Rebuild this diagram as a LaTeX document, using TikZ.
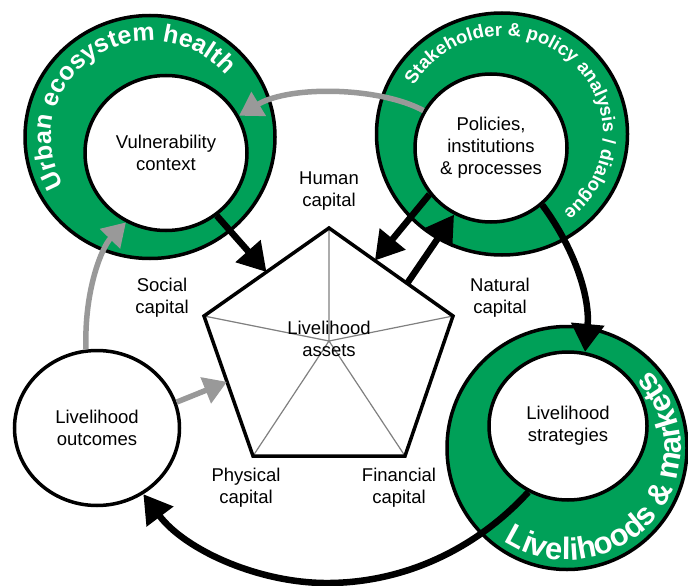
\documentclass[tikz,border=0pt]{standalone}
\usepackage{fontspec}
\setmainfont{Liberation Sans}
\usetikzlibrary{shapes.geometric,arrows.meta,decorations.text,calc}
\definecolor{ringgreen}{RGB}{0,160,88}
\definecolor{arrowgray}{RGB}{153,153,153}
\definecolor{spokegray}{RGB}{128,128,128}
\begin{document}
\begin{tikzpicture}[x=1pt,y=-1pt,
  ring/.style={fill=ringgreen, draw=black, line width=3.5pt},
  hole/.style={ellipse, draw=black, fill=white, line width=3.5pt, inner sep=0pt, align=center, font=\fontsize{18.5}{22}\selectfont},
  lbl/.style={align=center, font=\fontsize{18.5}{22}\selectfont, inner sep=0pt},
  blackarrow/.style={draw=black, line width=6.5pt, -{Triangle[length=28pt,width=32pt]}},
  grayarrow/.style={draw=arrowgray, line width=5.5pt, -{Triangle[length=23pt,width=27pt]}}
]
\useasboundingbox (0,0) rectangle (688,586);

% green rings
\draw[ring] (150,137) ellipse [x radius=125, y radius=121.5];
\draw[ring] (502,134) ellipse [x radius=125.5, y radius=121];
\draw[ring] (567,448) ellipse [x radius=120, y radius=121.5];

% inner circles
\node[hole, minimum width=162pt, minimum height=155pt] (vc) at (166,153) {Vulnerability\\context};
\node[hole, minimum width=152pt, minimum height=148pt] (pol) at (491,148) {Policies,\\institutions\\\& processes};
\node[hole, minimum width=158pt, minimum height=148pt] (lst) at (568,426) {Livelihood\\strategies};
\node[hole, minimum width=165pt, minimum height=155pt] (lo) at (97,428) {Livelihood\\outcomes};

% ring texts
\path[decorate, decoration={text along path, text align=center, text color=white,
  text={|\fontsize{25}{25}\selectfont\bfseries|Urban ecosystem health}}]
  ($(150,137)+(140:99 and 96)$) arc[start angle=140, end angle=330, x radius=99, y radius=96];
\path[decorate, decoration={text along path, text align=center, text color=white,
  text={|\fontsize{18.5}{18.5}\selectfont\bfseries|Stakeholder {\&} policy analysis / dialogue}}]
  ($(502,134)+(200:101 and 98)$) arc[start angle=200, end angle=422, x radius=101, y radius=98];
\path[decorate, decoration={text along path, text align=center, text color=white,
  text={|\fontsize{31}{31}\selectfont\bfseries|Livelihoods {\&} markets}}]
  ($(567,448)+(137:114 and 112)$) arc[start angle=137, end angle=-57, x radius=114, y radius=112];

% pentagon
\coordinate (p1) at (329,228);
\coordinate (p2) at (204,316);
\coordinate (p3) at (253,456);
\coordinate (p4) at (405,456);
\coordinate (p5) at (453,316);
\coordinate (pc) at (329,341);
\fill[white] (p1) -- (p2) -- (p3) -- (p4) -- (p5) -- cycle;
\draw[spokegray, line width=1.2pt] (pc) -- (p1) (pc) -- (p2) (pc) -- (p3) (pc) -- (p4) (pc) -- (p5);
\draw[line width=3.5pt, line join=miter] (p1) -- (p2) -- (p3) -- (p4) -- (p5) -- cycle;
\node[lbl] (assets) at (329,339) {Livelihood\\assets};

% capital labels
\node[lbl] (hc) at (329,191) {Human\\capital};
\node[lbl] (sc) at (162,298) {Social\\capital};
\node[lbl] (nc) at (500,298) {Natural\\capital};
\node[lbl] (phc) at (246,488) {Physical\\capital};
\node[lbl] (fc) at (399,488) {Financial\\capital};

% connectors
\coordinate (dip) at (330,583);
\draw[grayarrow] (pol.151) .. controls (380,87) and (290,85) .. (vc.27);
\draw[blackarrow] (vc.-51) -- ($(p1)!0.5!(p2)$);
\draw[blackarrow] (pol.217) -- ($(p1)!0.37!(p5)$);
\draw[blackarrow] ($(p1)!0.63!(p5)$) -- (pol.241);
\draw[blackarrow] (pol.-48) .. controls (577,252) and (590,300) .. (lst.77);
\draw[blackarrow] (lst.239) .. controls (480,545) and (410,582) .. (dip) .. controls (260,584) and (185,550) .. (lo.-55);
\draw[grayarrow] (lo.98) .. controls (84,290) and (102,247) .. (vc.240);
\draw[grayarrow] (lo.18) -- ($(p2)!0.47!(p3)$);
\end{tikzpicture}
\end{document}
